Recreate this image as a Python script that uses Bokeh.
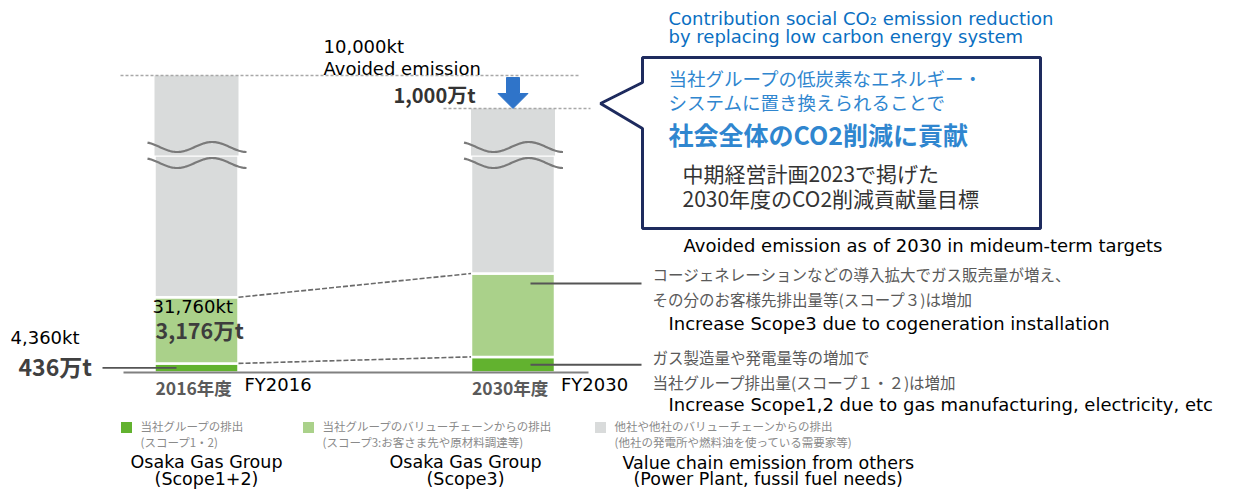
import numpy as np
from bokeh.plotting import figure
from bokeh.models import Range1d, ColumnDataSource, Label
from bokeh.embed import file_html
from bokeh.resources import INLINE

# ---------------- data (emissions in 万t-CO2) ----------------
fiscal_years = [2016, 2030]
year_labels_ja = ["2016年度", "2030年度"]
year_labels_en = ["FY2016", "FY2030"]
scope12 = [436, 750]      # Osaka Gas Group own emission (Scope1+2)
scope3 = [3176, 4000]     # Osaka Gas Group value chain (Scope3)
avoided_2030 = 1000       # avoided emission target in society, FY2030

legend_ja_1 = ["当社グループの排出", "当社グループのバリューチェーンからの排出", "他社や他社のバリューチェーンからの排出"]
legend_ja_2 = ["(スコープ1・2)", "(スコープ3:お客さま先や原材料調達等)", "(他社の発電所や燃料油を使っている需要家等)"]
legend_en_1 = ["Osaka Gas Group", "Osaka Gas Group", "Value chain emission from others"]
legend_en_2 = ["(Scope1+2)", "(Scope3)", "(Power Plant, fussil fuel needs)"]

# ---------------- styles ----------------
W, H = 1253, 490
DARK, LIGHT, GRAY = "#62b22f", "#aad18a", "#d9dbdb"
EN = "DejaVu Sans"
JP = "Noto Sans CJK JP"
EN_SIZE = 18

# layout of the two scales (broken value axis)
BAR0_PX, BAR1_PX = 196, 512.5          # bar centres
PX_PER_YEAR = (BAR1_PX - BAR0_PX) / (fiscal_years[1] - fiscal_years[0])
BAR_W = 84 / PX_PER_YEAR
BASE_PX, S_LO = 372, 48.0              # lower segment: 万t per pixel
TOP_PX, S_HI = 75, 1000 / 33.0         # upper segment, relative to FY2016 total
BREAK_PX = 155


def px_to_fy(px):
    return fiscal_years[0] + (px - BAR0_PX) / PX_PER_YEAR


def fy_to_px(fy):
    return BAR0_PX + (fy - fiscal_years[0]) * PX_PER_YEAR


p = figure(width=W, height=H, x_range=Range1d(0, W), y_range=Range1d(H, 0),
           output_backend="svg", toolbar_location=None, min_border=0)
p.axis.visible = False
p.grid.visible = False
p.outline_line_color = None
p.background_fill_color = "white"
p.border_fill_color = "white"

p.extra_x_ranges = {"fy": Range1d(px_to_fy(0), px_to_fy(W))}
p.extra_y_ranges = {
    "lo": Range1d(-(H - BASE_PX) * S_LO, BASE_PX * S_LO),
    "hi": Range1d(-(H - TOP_PX) * S_HI, TOP_PX * S_HI),
}
break_lo = (BASE_PX - BREAK_PX) * S_LO
break_hi = -(BREAK_PX - TOP_PX) * S_HI

# ---------------- stacked bars ----------------
s12 = np.array(scope12, dtype=float)
s3 = np.array(scope3, dtype=float)
tops_hi = [0.0, -float(avoided_2030)]
src = ColumnDataSource(dict(
    x=fiscal_years,
    b12=[0.0, 0.0], t12=s12,
    b3=s12, t3=s12 + s3,
    bo=s12 + s3, to=[break_lo, break_lo],
    bh=[break_hi, break_hi], th=tops_hi,
))
kw = dict(x="x", width=BAR_W, source=src, x_range_name="fy", line_color="white", line_width=2.5)
p.vbar(bottom="b12", top="t12", fill_color=DARK, y_range_name="lo", **kw)
p.vbar(bottom="b3", top="t3", fill_color=LIGHT, y_range_name="lo", **kw)
p.vbar(bottom="bo", top="to", fill_color=GRAY, y_range_name="lo", **kw)
p.vbar(bottom="bh", top="th", fill_color=GRAY, y_range_name="hi",
       x="x", width=BAR_W, source=src, x_range_name="fy", line_color=None)

# axis-break waves
xs, ys = [], []
for fy in fiscal_years:
    c = fy_to_px(fy)
    xx = np.linspace(c - 49, c + 50, 80)
    for yc in (146.5, 162.5):
        xs.append(xx)
        ys.append(yc - 5 * np.cos(2 * np.pi * (xx - (c + 15.7)) / 70))
p.multi_line(xs=xs, ys=ys, line_color="#7a7a7a", line_width=2.2)

# base line
p.segment(x0=[px_to_fy(123)], x1=[px_to_fy(588)], y0=[0], y1=[0],
          x_range_name="fy", y_range_name="lo", line_color="#808080", line_width=2)

# dashed links between stack tops
left_edge = fiscal_years[0] + BAR_W / 2
right_edge = fiscal_years[1] - BAR_W / 2
p.segment(x0=[left_edge] * 2, x1=[right_edge] * 2,
          y0=[s12[0], s12[0] + s3[0]], y1=[s12[1], s12[1] + s3[1]],
          x_range_name="fy", y_range_name="lo", line_color="#6a6a6a",
          line_width=1.6, line_dash="5 2")

# dashed total-emission levels
p.segment(x0=[px_to_fy(120), px_to_fy(443)], x1=[px_to_fy(578), px_to_fy(590)],
          y0=tops_hi, y1=tops_hi, x_range_name="fy", y_range_name="hi",
          line_color="#a8a8a8", line_width=1.4, line_dash="3 2")

# avoided-emission arrow
cx = fiscal_years[1]
sw, hw = 6.5 / PX_PER_YEAR, 15 / PX_PER_YEAR
y_start = -2 * S_HI
y_head = -avoided_2030 + 15 * S_HI
p.patch(x=[cx - sw, cx + sw, cx + sw, cx + hw, cx, cx - hw, cx - sw],
        y=[y_start, y_start, y_head, y_head, -avoided_2030, y_head, y_head],
        x_range_name="fy", y_range_name="hi", fill_color="#2f74c9", line_color="#2f74c9", line_width=1)

# leader lines to the value labels / notes
p.segment(x0=[px_to_fy(102)], x1=[px_to_fy(176)], y0=[s12[0] / 2], y1=[s12[0] / 2],
          x_range_name="fy", y_range_name="lo", line_color="#555555", line_width=1.8)
p.segment(x0=[px_to_fy(530)] * 2, x1=[px_to_fy(641)] * 2,
          y0=[s12[1] + 0.88 * s3[1], s12[1] / 2], y1=[s12[1] + 0.88 * s3[1], s12[1] / 2],
          x_range_name="fy", y_range_name="lo", line_color="#555555", line_width=2)

# callout box
p.patch(x=[642, 1040, 1040, 642, 642, 600, 642],
        y=[57, 57, 228, 228, 128, 103, 82],
        fill_color="white", line_color="#1e2b5e", line_width=3)


def label(x, y, text, size=EN_SIZE, color="#000000", font=EN, style="normal", align="left"):
    p.add_layout(Label(x=x, y=y, text=text, text_font=font, text_font_size=f"{size}px",
                       text_color=color, text_font_style=style, text_align=align,
                       text_baseline="middle"))


def man_t(v):
    return f"{v:,}万t"


def kt(v):
    return f"{v * 10:,}kt"


# title
label(668, 18, "Contribution social CO₂ emission reduction", 18, "#0a6fc2")
label(668, 36, "by replacing low carbon energy system", 18, "#0a6fc2")

# avoided emission
label(323, 46, kt(avoided_2030))
label(323, 68, "Avoided emission")
label(393, 94, man_t(avoided_2030), 20, "#333333", JP, "bold")

# FY2016 values
label(152, 306, kt(scope3[0]))
label(155, 329, man_t(scope3[0]), 21.5, "#3d3d3d", JP, "bold")
label(10, 337, kt(scope12[0]))
label(18, 365, man_t(scope12[0]), 23, "#404040", JP, "bold")

# category labels
for fy, ja, en in zip(fiscal_years, year_labels_ja, year_labels_en):
    c = fy_to_px(fy)
    label(c - 41, 387, ja, 17.5, "#5a5a5a", JP, "bold")
    label(c + 48, 384, en)

# callout text
label(668, 77, "当社グループの低炭素なエネルギー・", 18.5, "#2f86cf", JP)
label(668, 101, "システムに置き換えられることで", 18.5, "#2f86cf", JP)
label(668, 133, "社会全体のCO2削減に貢献", 25, "#2f86cf", JP, "bold")
label(682, 172, "中期経営計画2023で掲げた", 21, "#333333", JP)
label(682, 197, "2030年度のCO2削減貢献量目標", 21, "#333333", JP)
label(683, 245, "Avoided emission as of 2030 in mideum-term targets")

# notes on the right
label(652, 273, "コージェネレーションなどの導入拡大でガス販売量が増え、", 15.5, "#5a5a5a", JP)
label(652, 298, "その分のお客様先排出量等(スコープ３)は増加", 15.5, "#5a5a5a", JP)
label(668, 323, "Increase Scope3 due to cogeneration installation")
label(652, 356, "ガス製造量や発電量等の増加で", 15.5, "#5a5a5a", JP)
label(652, 381, "当社グループ排出量(スコープ１・２)は増加", 15.5, "#5a5a5a", JP)
label(668, 404, "Increase Scope1,2 due to gas manufacturing, electricity, etc")

# legend
sw_x = [126, 308, 600]
p.scatter(x=sw_x, y=[427] * 3, marker="square", size=11,
          fill_color=[DARK, LIGHT, GRAY], line_color=None)
for i, x in enumerate(sw_x):
    label(x + 14, 425, legend_ja_1[i], 11.5, "#8a8a8a", JP)
    label(x + 14, 441, legend_ja_2[i], 11.5, "#8a8a8a", JP)
label(206, 461, legend_en_1[0], 17.5, align="center")
label(206, 478, legend_en_2[0], 17.5, align="center")
label(465, 461, legend_en_1[1], 17.5, align="center")
label(465, 478, legend_en_2[1], 17.5, align="center")
label(622, 462, legend_en_1[2], 17.5)
label(633, 478, legend_en_2[2], 17.5)

open("out.html", "w").write(file_html(p, INLINE))
